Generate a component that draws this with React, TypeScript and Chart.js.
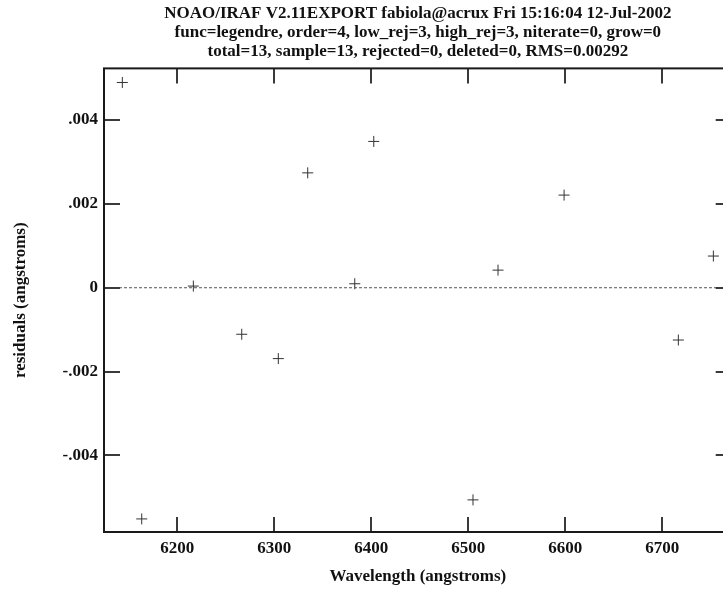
import React, { useEffect, useRef } from "react";
import { Chart, registerables } from "chart.js";

Chart.register(...registerables);

const titleLines = [
  "NOAO/IRAF V2.11EXPORT fabiola@acrux Fri 15:16:04 12-Jul-2002",
  "func=legendre, order=4, low_rej=3, high_rej=3, niterate=0, grow=0",
  "total=13, sample=13, rejected=0, deleted=0, RMS=0.00292",
];
const xAxisTitle = "Wavelength (angstroms)";
const yAxisTitle = "residuals (angstroms)";

const wavelengths = [
  6143.3, 6163.3, 6216.5, 6266.4, 6304.1, 6334.4, 6382.9, 6402.5, 6504.8,
  6530.6, 6598.7, 6716.5, 6752.6,
];
const residuals = [
  0.004896, -0.005514, 0.00004, -0.00111, -0.00169, 0.00274, 0.000095,
  0.00349, -0.00506, 0.00042, 0.00221, -0.001247, 0.000756,
];

const xRange = [6124.4, 6771.5];
const yRange = [-0.005826, 0.005232];
const xTicks = [6200, 6300, 6400, 6500, 6600, 6700];
const xTickLabels = ["6200", "6300", "6400", "6500", "6600", "6700"];
const yTicks = [-0.004, -0.002, 0, 0.002, 0.004];
const yTickLabels = ["-.004", "-.002", "0", ".002", ".004"];
const zeroLineY = 0;

const FONT = "'Liberation Serif', 'DejaVu Serif', serif";

const framePlugin = {
  id: "irafFrame",
  afterDatasetsDraw(chart: any) {
    const { ctx, chartArea } = chart;
    const xs = chart.scales.x;
    const ys = chart.scales.y;
    const tl = 15;
    ctx.save();
    ctx.strokeStyle = "#3a3a3a";
    ctx.lineWidth = 2;
    ctx.beginPath();
    xTicks.forEach((v) => {
      const px = Math.round(xs.getPixelForValue(v));
      ctx.moveTo(px, chartArea.bottom);
      ctx.lineTo(px, chartArea.bottom - tl);
      ctx.moveTo(px, chartArea.top);
      ctx.lineTo(px, chartArea.top + tl);
    });
    yTicks.forEach((v) => {
      const py = Math.round(ys.getPixelForValue(v));
      ctx.moveTo(chartArea.left, py);
      ctx.lineTo(chartArea.left + tl + 1, py);
      ctx.moveTo(chartArea.right, py);
      ctx.lineTo(chartArea.right - tl - 1, py);
    });
    ctx.stroke();
    ctx.strokeStyle = "#1a1a1a";
    ctx.lineWidth = 2;
    ctx.strokeRect(
      chartArea.left,
      chartArea.top,
      chartArea.right - chartArea.left,
      chartArea.bottom - chartArea.top
    );
    ctx.restore();
  },
};

export default function App() {
  const canvasRef = useRef<HTMLCanvasElement | null>(null);

  useEffect(() => {
    if (!canvasRef.current) return;
    Chart.defaults.font.family = FONT;
    const points = wavelengths.map((x, i) => ({ x, y: residuals[i] }));
    const chart = new Chart(canvasRef.current, {
      type: "scatter",
      data: {
        datasets: [
          {
            type: "line",
            data: [
              { x: xRange[0], y: zeroLineY },
              { x: xRange[1], y: zeroLineY },
            ],
            borderColor: "#555",
            borderWidth: 1,
            borderDash: [3, 2],
            pointRadius: 0,
            fill: false,
          },
          {
            data: points,
            pointStyle: "cross",
            pointRadius: 5.5,
            pointBorderWidth: 1,
            borderColor: "#333",
            backgroundColor: "#333",
          },
        ],
      } as any,
      options: {
        animation: false,
        responsive: false,
        devicePixelRatio: 1,
        layout: { padding: { left: 0, top: 0, right: 13.3, bottom: 0 } },
        plugins: {
          legend: { display: false },
          tooltip: { enabled: false },
          title: {
            display: true,
            text: titleLines,
            fullSize: false,
            color: "#111",
            font: { family: FONT, size: 17, weight: "bold", lineHeight: 1.09 },
            padding: { top: 4.8, bottom: 8 },
          },
        },
        scales: {
          x: {
            type: "linear",
            min: xRange[0],
            max: xRange[1],
            grid: { display: false, drawTicks: false },
            border: { display: false },
            afterBuildTicks: (s: any) => {
              s.ticks = xTicks.map((v) => ({ value: v }));
            },
            afterFit: (s: any) => {
              s.height = 58;
            },
            ticks: {
              padding: 6.5,
              color: "#111",
              font: { family: FONT, size: 17, weight: "bold" },
              maxRotation: 0,
              callback: (v: any) => {
                const i = xTicks.indexOf(Number(v));
                return i >= 0 ? xTickLabels[i] : "";
              },
            },
            title: {
              display: true,
              text: xAxisTitle,
              color: "#111",
              font: { family: FONT, size: 17, weight: "bold", lineHeight: 1.15 },
              padding: { top: 0, bottom: 3.2 },
            },
          },
          y: {
            type: "linear",
            min: yRange[0],
            max: yRange[1],
            grid: { display: false, drawTicks: false },
            border: { display: false },
            afterBuildTicks: (s: any) => {
              s.ticks = yTicks.map((v) => ({ value: v }));
            },
            afterFit: (s: any) => {
              s.width = 104;
            },
            ticks: {
              padding: 6,
              color: "#111",
              font: { family: FONT, size: 17, weight: "bold" },
              callback: (v: any) => {
                const i = yTicks.findIndex((t) => Math.abs(t - Number(v)) < 1e-9);
                return i >= 0 ? yTickLabels[i] : "";
              },
            },
            title: {
              display: true,
              text: yAxisTitle,
              color: "#111",
              font: { family: FONT, size: 17, weight: "bold", lineHeight: 1.15 },
              padding: { top: 11, bottom: 0 },
            },
          },
        },
      } as any,
      plugins: [framePlugin],
    });
    return () => chart.destroy();
  }, []);

  return (
    <div
      style={{
        position: "fixed",
        left: 0,
        top: 0,
        width: 723,
        height: 590,
        overflow: "hidden",
        background: "#fff",
      }}
    >
      <canvas
        ref={canvasRef}
        width={745}
        height={590}
        style={{ display: "block", width: 745, height: 590 }}
      />
    </div>
  );
}
